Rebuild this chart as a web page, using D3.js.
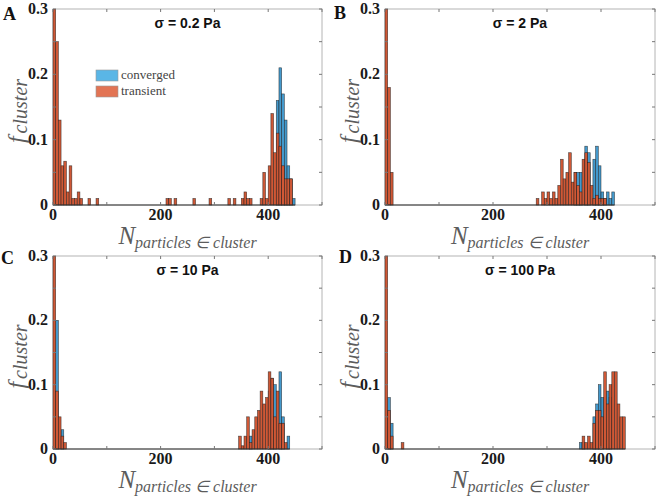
<!DOCTYPE html>
<html><head><meta charset="utf-8">
<script src="https://cdn.jsdelivr.net/npm/d3@7"></script>
<style>body{margin:0;background:#fff}</style>
</head><body>
<svg id="c" width="660" height="496"></svg>
<script>
const binWidth = 5;
const xTicks = [0, 100, 200, 300, 400, 500];
const xTickLabels = ["0", "", "200", "", "400", ""];
const yTicks = [0, 0.05, 0.1, 0.15, 0.2, 0.25, 0.3];
const yTickLabels = ["0", "", "0.1", "", "0.2", "", "0.3"];
const panelLetters = ["A", "B", "C", "D"];
const panelTitles = ["σ = 0.2 Pa", "σ = 2 Pa", "σ = 10 Pa", "σ = 100 Pa"];
const legendLabels = ["converged", "transient"];

// [bin start (particles), fraction]
const convergedA = [[415,0.16],[420,0.21],[425,0.17],[430,0.13],[435,0.06],[440,0.04],[445,0.01]];
const transientA = [[0,0.30],[5,0.25],[10,0.13],[15,0.06],[20,0.067],[25,0.02],[30,0.06],[35,0.01],[40,0.01],[45,0.02],[50,0.01],
  [65,0.01],[80,0.01],[210,0.01],[215,0.01],[225,0.01],[260,0.01],[290,0.01],[325,0.01],[335,0.01],
  [350,0.01],[355,0.02],[360,0.01],[365,0.01],[385,0.01],[390,0.05],[395,0.01],[400,0.06],[405,0.14],
  [410,0.08],[415,0.11],[420,0.09],[425,0.06],[430,0.04],[435,0.04],[440,0.04]];

const convergedB = [[350,0.05],[355,0.05],[360,0.05],[370,0.09],[375,0.08],[385,0.07],[390,0.09],[395,0.06],
  [400,0.02],[405,0.01],[410,0.02],[415,0.01],[420,0.02]];
const transientB = [[0,0.30],[5,0.18],[10,0.05],[280,0.01],[290,0.02],[295,0.01],[300,0.02],[305,0.01],[310,0.02],
  [315,0.01],[320,0.03],[325,0.07],[330,0.04],[335,0.05],[340,0.08],[345,0.035],[350,0.05],[355,0.03],
  [360,0.02],[365,0.07],[370,0.08],[375,0.065],[380,0.03],[385,0.01],[390,0.015],[395,0.01],[400,0.01],[405,0.01]];

const convergedC = [[5,0.20],[15,0.03],[365,0.02],[400,0.09],[405,0.11],[410,0.10],[420,0.12],[425,0.05],[435,0.02]];
const transientC = [[0,0.30],[5,0.09],[10,0.05],[15,0.02],[20,0.01],[345,0.02],[350,0.005],[355,0.02],[360,0.05],
  [365,0.01],[370,0.03],[375,0.05],[380,0.06],[385,0.09],[390,0.07],[395,0.08],[400,0.12],[405,0.11],
  [410,0.05],[415,0.09],[420,0.04],[425,0.04],[430,0.01]];

const convergedD = [[5,0.08],[10,0.04],[360,0.01],[365,0.01],[385,0.05],[390,0.07],[395,0.10],[400,0.08],[410,0.09],[415,0.08]];
const transientD = [[0,0.30],[5,0.06],[10,0.02],[30,0.01],[365,0.02],[370,0.01],[375,0.02],[380,0.01],[385,0.04],
  [390,0.06],[395,0.06],[400,0.05],[405,0.12],[410,0.07],[415,0.10],[420,0.12],[425,0.12],[430,0.07],
  [435,0.05],[440,0.05]];

const convergedSets = [convergedA, convergedB, convergedC, convergedD];
const transientSets = [transientA, transientB, transientC, transientD];

const panels = [
  {l: 53, r: 322, t: 9, b: 205},
  {l: 385, r: 655, t: 9, b: 205},
  {l: 53, r: 322, t: 256, b: 449},
  {l: 385, r: 655, t: 256, b: 449}
];
const letterPos = [[3, 20], [334, 19], [1, 264], [339, 263]];

const blueFill = "#4499cc", orangeFill = "#cf5836";
const svg = d3.select("#c");

panels.forEach((p, i) => {
  const g = svg.append("g");
  const x = d3.scaleLinear().domain([0, 500]).range([p.l, p.r]);
  const y = d3.scaleLinear().domain([0, 0.3]).range([p.b, p.t]);

  g.append("rect").attr("x", p.l).attr("y", p.t).attr("width", p.r - p.l).attr("height", p.b - p.t)
    .attr("fill", "#fff").attr("stroke", "#b4b4b4").attr("stroke-width", 1);

  const clip = "clip" + i;
  svg.append("clipPath").attr("id", clip).append("rect")
    .attr("x", p.l - 1).attr("y", p.t).attr("width", p.r - p.l + 2).attr("height", p.b - p.t + 1);
  const plot = g.append("g").attr("clip-path", `url(#${clip})`);

  const drawBars = (data, fill) => {
    plot.selectAll(null).data(data).enter().append("rect")
      .attr("x", d => x(d[0]))
      .attr("width", d => x(d[0] + binWidth) - x(d[0]))
      .attr("y", d => y(d[1]))
      .attr("height", d => y(0) - y(d[1]))
      .attr("fill", fill)
      .attr("stroke", "#1a1a1a").attr("stroke-opacity", 0.75).attr("stroke-width", 0.6);
  };
  drawBars(convergedSets[i], blueFill);
  drawBars(transientSets[i], orangeFill);

  const all = convergedSets[i].concat(transientSets[i]);
  const maxBin = d3.max(all, d => d[0]) + binWidth;
  g.append("line").attr("x1", x(0)).attr("x2", x(maxBin)).attr("y1", y(0)).attr("y2", y(0))
    .attr("stroke", "#333").attr("stroke-width", 1.2);

  const tickCol = "#777";
  xTicks.forEach(t => {
    g.append("line").attr("x1", x(t)).attr("x2", x(t)).attr("y1", p.b).attr("y2", p.b - 3).attr("stroke", tickCol);
    g.append("line").attr("x1", x(t)).attr("x2", x(t)).attr("y1", p.t).attr("y2", p.t + 3).attr("stroke", tickCol);
  });
  yTicks.forEach(t => {
    g.append("line").attr("x1", p.l).attr("x2", p.l + 3).attr("y1", y(t)).attr("y2", y(t)).attr("stroke", tickCol);
    g.append("line").attr("x1", p.r).attr("x2", p.r - 3).attr("y1", y(t)).attr("y2", y(t)).attr("stroke", tickCol);
  });

  g.selectAll(null).data(xTicks).enter().append("text")
    .attr("x", d => x(d)).attr("y", p.b + 15)
    .attr("text-anchor", "middle")
    .attr("font-family", "Liberation Serif, serif").attr("font-size", 16).attr("font-weight", "bold")
    .attr("fill", "#1a1a1a")
    .text((d, k) => xTickLabels[k]);
  g.selectAll(null).data(yTicks).enter().append("text")
    .attr("x", p.l - 5).attr("y", d => y(d) + 5)
    .attr("text-anchor", "end")
    .attr("font-family", "Liberation Serif, serif").attr("font-size", 16).attr("font-weight", "bold")
    .attr("fill", "#1a1a1a")
    .text((d, k) => yTickLabels[k]);

  const xl = g.append("text")
    .attr("x", (p.l + p.r) / 2).attr("y", p.b + 39)
    .attr("text-anchor", "middle")
    .attr("font-family", "Liberation Serif, serif").attr("font-style", "italic")
    .attr("fill", "#5c5c5c");
  xl.append("tspan").attr("font-size", 25).text("N");
  xl.append("tspan").attr("font-size", 16).attr("dy", 4).text("particles ∈ cluster");

  const yl = g.append("text")
    .attr("transform", `translate(${p.l - 29},${(p.t + p.b) / 2 + 4}) rotate(-90)`)
    .attr("text-anchor", "middle")
    .attr("font-family", "Liberation Serif, serif").attr("font-style", "italic")
    .attr("fill", "#5c5c5c");
  yl.append("tspan").attr("font-size", 24).text("f");
  yl.append("tspan").attr("font-size", 20).attr("dy", 3).attr("dx", 3).text("cluster");

  g.append("text").attr("x", (p.l + p.r) / 2).attr("y", p.t + 19)
    .attr("text-anchor", "middle")
    .attr("font-family", "Liberation Sans, Arial, sans-serif").attr("font-size", 14).attr("font-weight", "bold")
    .attr("fill", "#111")
    .text(panelTitles[i]);

  g.append("text").attr("x", letterPos[i][0]).attr("y", letterPos[i][1])
    .attr("font-family", "Liberation Serif, serif").attr("font-size", 18).attr("font-weight", "bold")
    .attr("fill", "#111").text(panelLetters[i]);

  if (i === 0) {
    const lg = g.append("g");
    const cols = ["#5ab6e6", "#e27454"];
    legendLabels.forEach((lab, k) => {
      lg.append("rect").attr("x", 96).attr("y", 70 + k * 16).attr("width", 22).attr("height", 11)
        .attr("fill", cols[k]).attr("stroke", "#999").attr("stroke-width", 0.6);
      lg.append("text").attr("x", 121).attr("y", 79 + k * 16)
        .attr("font-family", "Liberation Serif, serif").attr("font-size", 13)
        .attr("fill", "#444").text(lab);
    });
  }
});
</script>
</body></html>
